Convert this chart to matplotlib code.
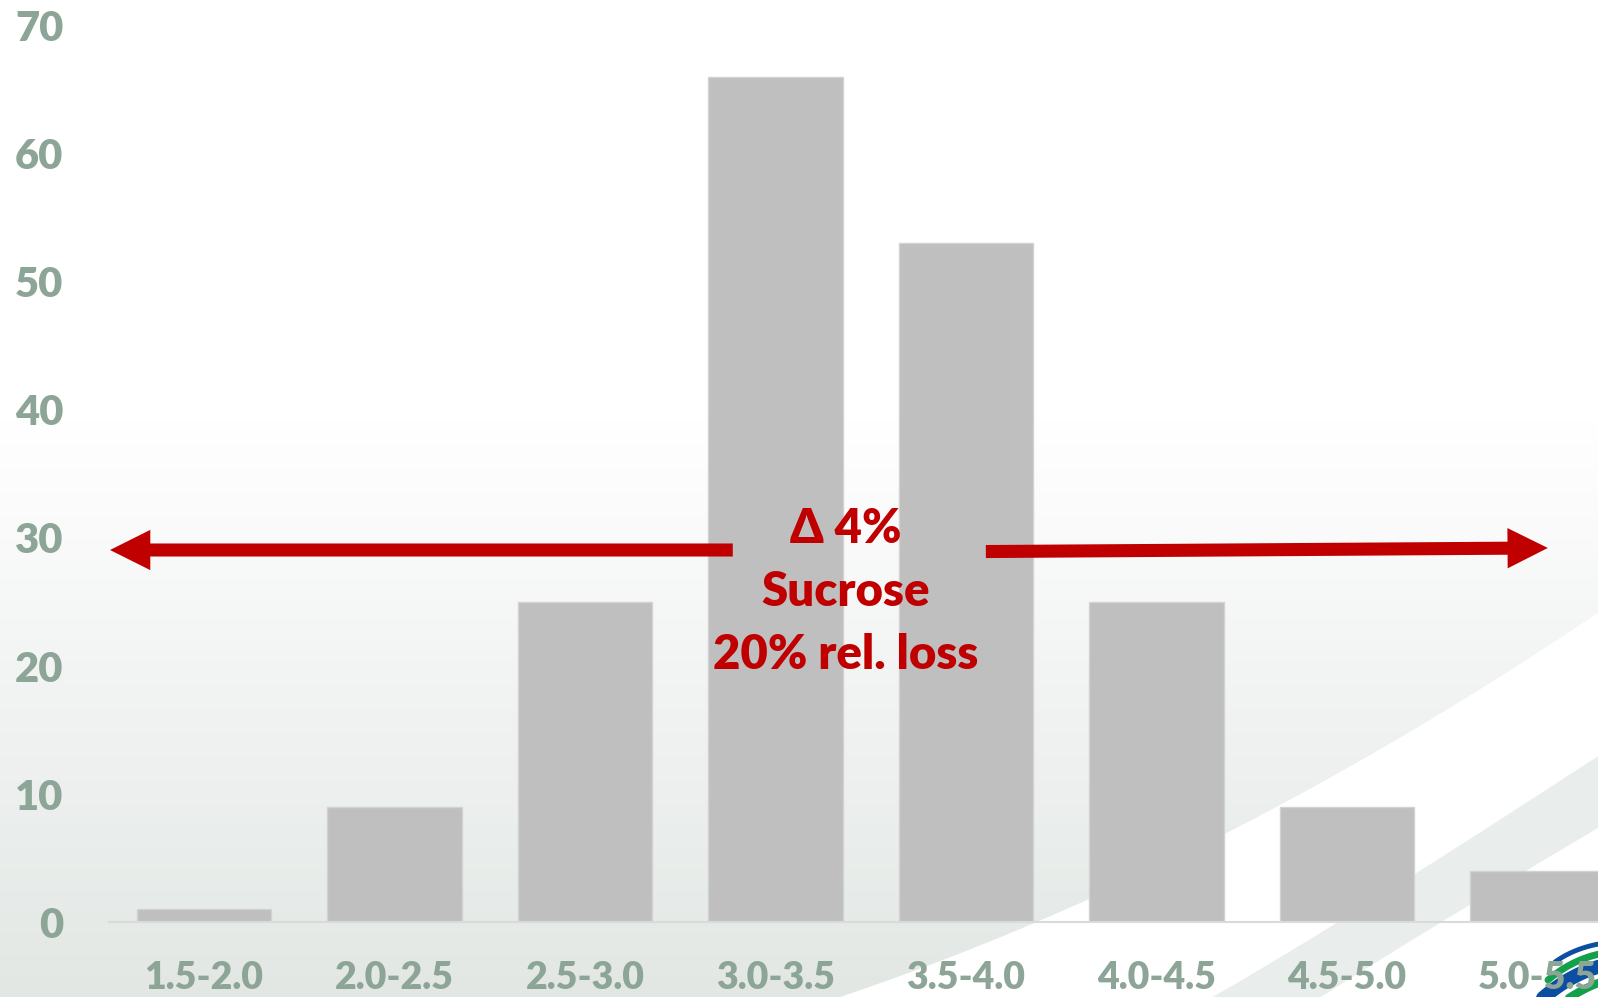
import numpy as np
import matplotlib
matplotlib.use("Agg")
import matplotlib.pyplot as plt
from matplotlib.patches import Polygon

# ---- data -------------------------------------------------------------
categories = ["1.5-2.0", "2.0-2.5", "2.5-3.0", "3.0-3.5",
              "3.5-4.0", "4.0-4.5", "4.5-5.0", "5.0-5.5"]
counts = [1, 9, 25, 66, 53, 25, 9, 4]
y_ticks = [0, 10, 20, 30, 40, 50, 60, 70]
note_lines = ["\u0394 4%", "Sucrose", "20% rel. loss"]

# ---- style ------------------------------------------------------------
W, H, DPI = 1598, 997, 100
FONT = ["Lato", "DejaVu Sans"]
WEIGHT = "heavy"
plt.rcParams["font.family"] = FONT
BAR_COLOR = "#BFBFBF"
LABEL_COLOR = "#8CA597"
RED = "#C00000"

fig = plt.figure(figsize=(W / DPI, H / DPI), dpi=DPI)

# ---- background: soft vertical gradient with white swooshes -----------
bg = fig.add_axes([0, 0, 1, 1], zorder=0)
bg.set_xlim(0, W)
bg.set_ylim(H, 0)
bg.axis("off")

rows = np.arange(H)
t = np.clip((rows - 420) / (H - 420), 0, 1)[:, None]
top = np.array([1.0, 1.0, 1.0])
bottom = np.array([226, 231, 228]) / 255.0
grad = (1 - t) * top + t * bottom
grad = np.repeat(grad[:, None, :], 2, axis=1)
bg.imshow(grad, extent=(0, W, H, 0), aspect="auto", interpolation="bilinear")


def bezier(p0, c, p2, n=80):
    s = np.linspace(0, 1, n)[:, None]
    p0, c, p2 = map(np.asarray, (p0, c, p2))
    return (1 - s) ** 2 * p0 + 2 * (1 - s) * s * c + s ** 2 * p2


edge_a = bezier((840, 997), (1224, 868), (1620, 598))
edge_b = bezier((1213, 997), (1340, 925), (1620, 742))
edge_c = bezier((1300, 1010), (1450, 915), (1620, 815))

white_band = np.vstack([edge_a, [[W + 30, 598], [W + 30, 742]], edge_b[::-1]])
bg.add_patch(Polygon(white_band, closed=True, fc="white", ec="none"))
gray_band = np.vstack([edge_b, edge_c[::-1]])
bg.add_patch(Polygon(gray_band, closed=True, fc="#E9EDEB", ec="none"))
lower_white = np.vstack([edge_c, [[W + 30, 815], [W + 30, H + 30], [1300, H + 30]]])
bg.add_patch(Polygon(lower_white, closed=True, fc="white", ec="none"))

# corner emblem: curved blue / green strokes
for (p0, c, p2), col, lw in [
    (((1555, 962), (1576, 947), (1605, 943)), "#0B4EA2", 3.5),
    (((1548, 980), (1574, 958), (1605, 953)), "#12A04A", 5),
    (((1543, 998), (1572, 973), (1605, 965)), "#0B4EA2", 10),
    (((1560, 1004), (1586, 986), (1605, 981)), "#12A04A", 6),
]:
    pts = bezier(p0, c, p2, 40)
    bg.plot(pts[:, 0], pts[:, 1], color=col, lw=lw, solid_capstyle="round")

# ---- chart ------------------------------------------------------------
x0_px, x1_px = 108.5, 1633.0
y0_px, y70_px = 922.3, 25.5
ax = fig.add_axes([x0_px / W, (H - y0_px) / H,
                   (x1_px - x0_px) / W, (y0_px - y70_px) / H], zorder=1)
ax.set_facecolor("none")

x = np.arange(len(categories))
ax.bar(x, counts, width=0.706, color=BAR_COLOR, edgecolor="#D2D2D2",
       linewidth=1.0, zorder=2)

ax.set_xlim(-0.5, len(categories) - 0.5)
ax.set_ylim(0, 70)
ax.set_yticks(y_ticks)
ax.set_yticklabels([str(v) for v in y_ticks])
ax.set_xticks(x)
ax.set_xticklabels(categories)

for side in ("top", "right", "left"):
    ax.spines[side].set_visible(False)
ax.spines["bottom"].set_color("#DADADA")
ax.spines["bottom"].set_linewidth(1.5)

ax.tick_params(axis="y", length=0, pad=32.5, labelsize=30,
               labelcolor=LABEL_COLOR)
ax.tick_params(axis="x", length=0, pad=28, labelsize=27,
               labelcolor=LABEL_COLOR)
for lab in ax.get_xticklabels() + ax.get_yticklabels():
    lab.set_family(FONT)
    lab.set_fontweight(WEIGHT)

# ---- range arrows and note --------------------------------------------
arrow_style = "simple,head_length=29,head_width=29,tail_width=9.4"
left_tail, left_tip = (2.776, 29.06), (-0.492, 29.06)
right_tail, right_tip = (4.104, 28.94), (7.053, 29.22)
for tail, tip in [(left_tail, left_tip), (right_tail, right_tip)]:
    ax.annotate("", xy=tip, xytext=tail,
                arrowprops=dict(arrowstyle=arrow_style, mutation_scale=1,
                                fc=RED, ec="none", shrinkA=0, shrinkB=0),
                zorder=4)

note_x = 3.37
note_baselines = [29.61, 24.69, 19.77]
for line, yb in zip(note_lines, note_baselines):
    ax.text(note_x, yb, line, ha="center", va="baseline", color=RED,
            fontsize=34, fontweight=WEIGHT, family=FONT, zorder=5)

fig.savefig("out.png", dpi=DPI)
